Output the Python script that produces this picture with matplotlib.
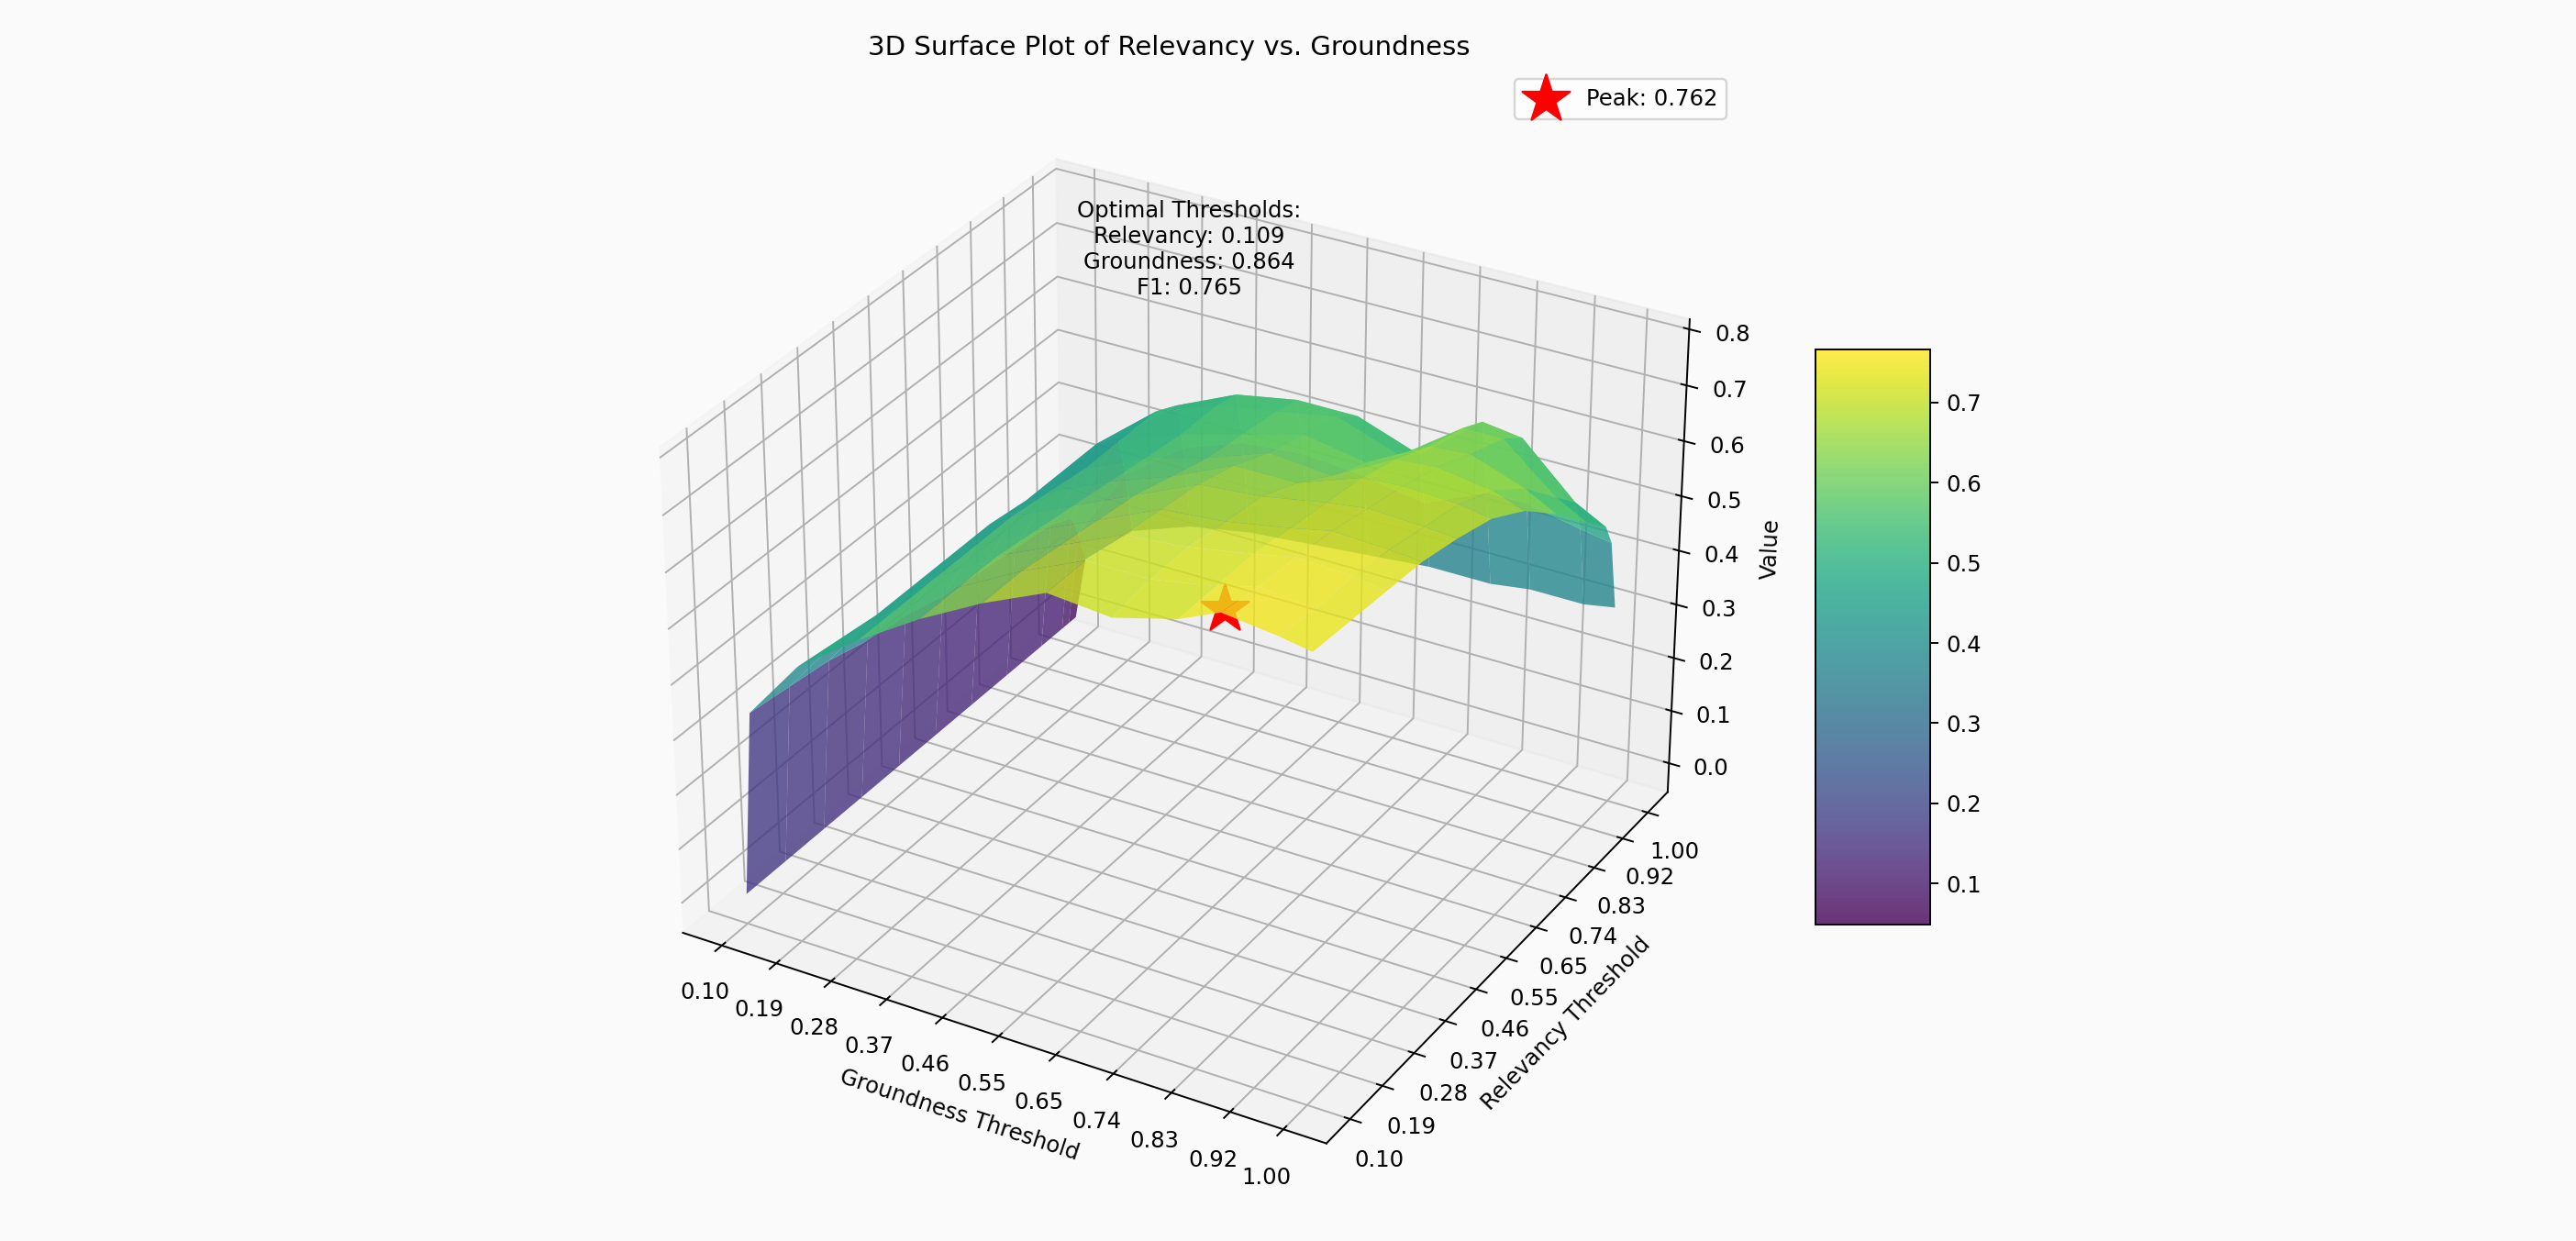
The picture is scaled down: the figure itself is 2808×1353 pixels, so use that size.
import numpy as np
import matplotlib.pyplot as plt

# old-style 3D padding (1/48 extra margin)
if 'axes3d.automargin' in plt.rcParams:
    plt.rcParams['axes3d.automargin'] = True

# Thresholds (groundness on x, relevancy on y)
groundness = [0.1, 0.118, 0.2, 0.3, 0.4, 0.5, 0.6, 0.7, 0.8, 0.864, 0.95, 1.0]
relevancy = [0.1, 0.2, 0.3, 0.4, 0.5, 0.6, 0.7, 0.8, 0.9, 0.96, 0.98, 1.0]

# Value read from the surface, one row per relevancy threshold
values = [
    [0.0, 0.34, 0.45, 0.53, 0.60, 0.66, 0.71, 0.70, 0.73, 0.762, 0.75, 0.74],
    [0.0, 0.33, 0.44, 0.53, 0.60, 0.66, 0.71, 0.71, 0.73, 0.750, 0.74, 0.735],
    [0.0, 0.32, 0.43, 0.53, 0.60, 0.65, 0.70, 0.71, 0.73, 0.745, 0.74, 0.73],
    [0.0, 0.30, 0.43, 0.53, 0.59, 0.64, 0.69, 0.70, 0.72, 0.735, 0.73, 0.725],
    [0.0, 0.29, 0.43, 0.53, 0.58, 0.63, 0.68, 0.69, 0.71, 0.720, 0.715, 0.71],
    [0.0, 0.27, 0.43, 0.52, 0.57, 0.61, 0.66, 0.66, 0.70, 0.705, 0.70, 0.69],
    [0.0, 0.26, 0.42, 0.51, 0.56, 0.59, 0.63, 0.62, 0.68, 0.685, 0.67, 0.65],
    [0.0, 0.25, 0.42, 0.51, 0.55, 0.58, 0.61, 0.59, 0.65, 0.655, 0.62, 0.59],
    [0.0, 0.24, 0.42, 0.51, 0.55, 0.57, 0.59, 0.55, 0.63, 0.630, 0.55, 0.52],
    [0.0, 0.22, 0.40, 0.49, 0.54, 0.56, 0.56, 0.52, 0.61, 0.600, 0.51, 0.48],
    [0.0, 0.18, 0.32, 0.40, 0.44, 0.45, 0.44, 0.42, 0.47, 0.470, 0.45, 0.44],
    [0.0, 0.12, 0.20, 0.24, 0.26, 0.27, 0.28, 0.29, 0.29, 0.300, 0.30, 0.31],
]

peak_g, peak_r, peak_val = 0.864, 0.109, 0.762
opt_r, opt_g, opt_f1 = 0.109, 0.864, 0.765
color_lo, color_hi = 0.049, 0.766

tick_vals = [0.1, 0.1909, 0.2818, 0.3727, 0.4636, 0.5545, 0.6455, 0.7364, 0.8273, 0.9182, 1.0]

X, Y = np.meshgrid(groundness, relevancy)
Z = np.array(values)

fig = plt.figure(figsize=(2808 / 175, 1353 / 175), dpi=175, facecolor='#fafafa')
ax = fig.add_axes([0.2360, 0.0301, 0.4359, 0.9047], projection='3d')
ax.set_facecolor('#fafafa')
ax.set_box_aspect(None, zoom=1.02)

surf = ax.plot_surface(X, Y, Z, cmap='viridis', alpha=0.8, vmin=color_lo, vmax=color_hi)
ax.scatter([peak_g], [peak_r], [peak_val], color='red', marker='*', s=500,
           label=f'Peak: {peak_val:.3f}')

ax.set_xticks(tick_vals)
ax.set_yticks(tick_vals)
ax.set_xticklabels([f'{v:.2f}' for v in tick_vals])
ax.set_yticklabels([f'{v:.2f}' for v in tick_vals])
ax.set_xlabel('Groundness Threshold')
ax.set_ylabel('Relevancy Threshold')
ax.set_zlabel('Value')
ax.set_title('3D Surface Plot of Relevancy vs. Groundness', pad=11.6)

ax.text2D(0.5175, 0.8937,
          f'Optimal Thresholds:\nRelevancy: {opt_r:.3f}\nGroundness: {opt_g:.3f}\nF1: {opt_f1:.3f}',
          transform=ax.transAxes, ha='center', va='top')
ax.legend(loc='upper right', bbox_to_anchor=(1.0059, 1.0117))

cax = fig.add_axes([0.7048, 0.255, 0.0445, 0.4634])
fig.colorbar(surf, cax=cax)

fig.savefig('out.png', dpi=175, facecolor=fig.get_facecolor())
